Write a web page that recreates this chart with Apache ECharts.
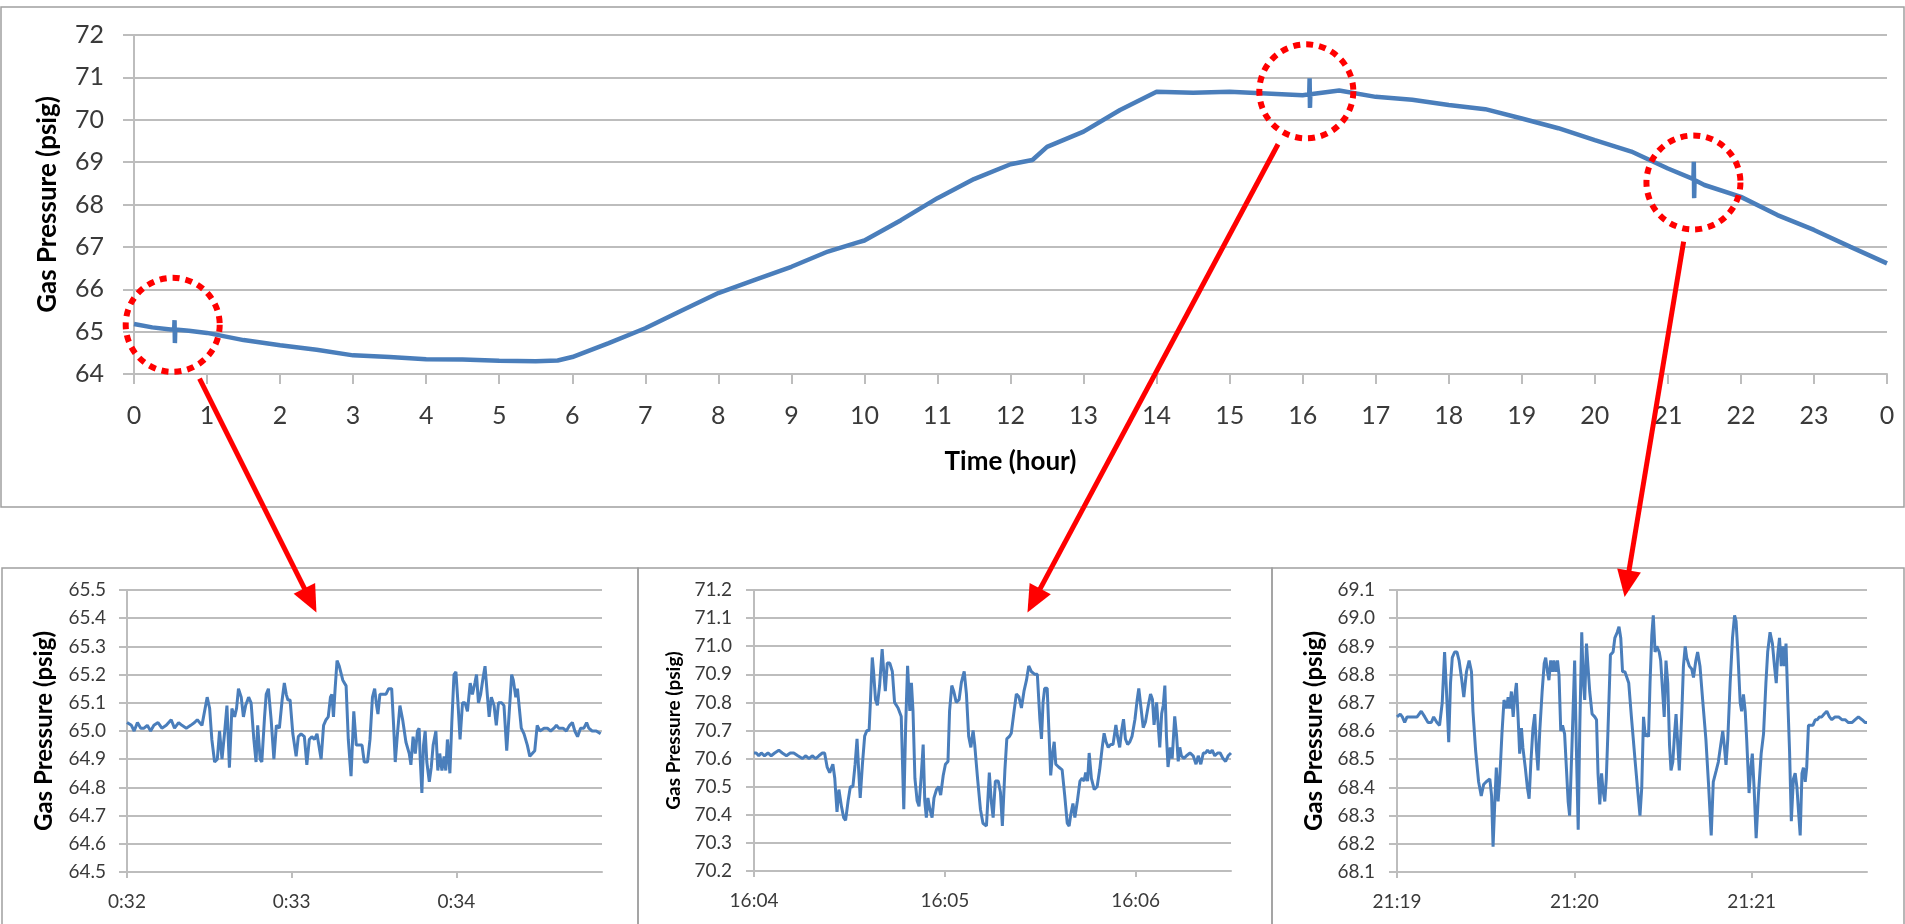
<!DOCTYPE html>
<html>
<head>
<meta charset="utf-8">
<script src="https://cdn.jsdelivr.net/npm/echarts@6/dist/echarts.min.js"></script>
<style>
html,body{margin:0;padding:0;background:#ffffff;}
#c{width:1905px;height:924px;}
</style>
</head>
<body>
<div id="c"></div>
<script>
// ---------- DATA ----------
// Main chart: 24-hour gas pressure (hour, psig)
const mainHours = [0,0.25,0.5,0.55,0.555,0.56,0.565,0.75,1.0,1.5,2.0,2.5,3.0,3.5,4.0,4.5,5.0,5.5,5.8,6.0,6.5,7.0,7.5,8.0,8.5,9.0,9.5,9.9,10.0,10.5,11.0,11.5,12.0,12.3,12.5,13.0,13.5,14.0,14.5,15.0,15.5,16.0,16.09,16.095,16.1,16.105,16.5,17.0,17.5,18.0,18.5,19.0,19.5,20.0,20.5,21.0,21.35,21.355,21.36,21.365,21.5,22.0,22.5,23.0,23.5,24.0];
const mainPressure = [65.18,65.10,65.05,65.05,65.27,64.73,65.05,65.02,64.97,64.80,64.68,64.57,64.44,64.40,64.35,64.34,64.31,64.30,64.32,64.40,64.73,65.08,65.50,65.91,66.22,66.53,66.89,67.10,67.15,67.63,68.15,68.60,68.95,69.05,69.36,69.72,70.23,70.66,70.64,70.66,70.62,70.58,70.60,70.98,70.28,70.60,70.69,70.54,70.47,70.35,70.25,70.03,69.80,69.52,69.25,68.85,68.60,69.01,68.15,68.58,68.46,68.18,67.75,67.40,67.00,66.61];
const hourTickLabels = ['0','1','2','3','4','5','6','7','8','9','10','11','12','13','14','15','16','17','18','19','20','21','22','23','0'];

// Zoom 1: seconds after 0:32:00, psig
const zoom1Data = [[0,65.03],[1.6,65.02],[2.6,65.00],[3.8,65.03],[5.0,65.01],[6.2,65.01],[7.4,65.02],[8.6,65.00],[9.8,65.02],[11.3,65.03],[12.7,65.01],[14.3,65.02],[16.1,65.04],[17.3,65.01],[18.8,65.03],[20.0,65.02],[21.6,65.01],[23.2,65.02],[24.6,65.03],[25.6,65.04],[27.3,65.02],[29.2,65.12],[30.1,65.08],[30.9,64.97],[31.9,64.89],[32.9,64.90],[33.7,65.00],[34.6,64.90],[35.5,64.99],[36.4,65.09],[37.3,64.87],[38.2,65.08],[39.2,65.05],[39.9,65.08],[40.6,65.15],[41.6,65.12],[42.4,65.05],[43.2,65.09],[44.3,65.12],[45.2,65.10],[46.2,64.97],[47.0,64.89],[47.6,65.02],[48.5,64.90],[49.1,64.89],[50.1,65.05],[50.7,65.13],[51.5,65.15],[52.5,65.04],[53.5,64.90],[54.4,65.02],[55.5,65.01],[56.5,65.11],[57.3,65.17],[58.0,65.13],[58.6,65.11],[59.4,65.11],[60.4,64.99],[61.6,64.91],[62.4,64.98],[63.4,64.99],[64.6,64.98],[65.5,64.88],[66.4,64.97],[67.3,64.98],[68.3,64.97],[69.2,64.99],[69.7,64.96],[70.7,64.90],[71.6,65.02],[72.5,65.04],[73.3,65.05],[74.1,65.12],[74.6,65.13],[75.2,65.05],[75.8,65.15],[76.5,65.25],[77.3,65.23],[78.6,65.18],[79.8,65.16],[80.6,64.97],[81.6,64.84],[82.6,65.07],[83.5,64.95],[84.6,64.95],[85.6,64.95],[86.4,64.89],[87.6,64.89],[88.5,64.97],[89.4,65.12],[90.2,65.15],[90.9,65.09],[91.4,65.06],[92.1,65.13],[93.1,65.13],[94.3,65.13],[95.3,65.15],[96.4,65.15],[97.1,65.02],[97.7,64.89],[98.5,64.99],[99.4,65.09],[100.4,65.04],[101.6,64.96],[102.8,64.92],[103.4,64.88],[104.2,64.98],[105.0,64.92],[105.8,65.00],[106.4,65.01],[106.8,64.90],[107.4,64.78],[108.0,64.95],[108.6,65.00],[109.2,64.89],[110.1,64.82],[110.8,64.87],[111.5,64.95],[112.5,65.00],[113.2,64.86],[113.9,64.92],[114.7,64.86],[115.5,64.91],[116.1,64.86],[116.7,64.97],[117.6,64.85],[118.3,65.03],[119.1,65.20],[119.8,65.21],[120.6,65.09],[121.3,64.97],[122.2,65.10],[123.1,65.10],[124.0,65.07],[125.0,65.17],[125.8,65.13],[126.7,65.17],[127.3,65.20],[128.0,65.10],[128.8,65.13],[129.7,65.19],[130.4,65.23],[131.3,65.12],[131.9,65.05],[132.7,65.12],[133.7,65.09],[134.5,65.02],[135.3,65.10],[136.5,65.10],[137.3,65.09],[138.3,64.93],[139.1,65.05],[140.1,65.20],[140.7,65.18],[141.6,65.12],[142.2,65.15],[142.8,65.09],[143.6,65.01],[144.6,64.99],[145.8,64.95],[146.7,64.91],[147.6,64.92],[148.5,64.93],[149.4,65.02],[150.4,65.00],[151.9,65.01],[153.1,65.01],[154.3,65.00],[155.5,65.01],[156.4,65.02],[157.3,65.01],[158.8,65.01],[160.0,65.00],[161.2,65.02],[162.2,65.03],[163.1,65.00],[164.1,64.98],[165.2,65.01],[166.4,65.01],[167.4,65.03],[168.2,65.01],[169.4,65.00],[170.9,65.00],[172.5,64.99]];
const zoom1TickLabels = ['0:32','0:33','0:34'];

// Zoom 2: seconds after 16:04:00, psig
const zoom2Data = [[0,70.62],[0.7,70.62],[1.5,70.61],[2.3,70.62],[3.3,70.61],[4.4,70.62],[5.4,70.61],[6.5,70.62],[7.8,70.63],[8.9,70.62],[10.2,70.61],[11.4,70.62],[12.5,70.62],[13.8,70.61],[15.2,70.60],[16.3,70.61],[17.3,70.60],[18.3,70.61],[19.4,70.60],[20.4,70.61],[21.5,70.62],[22.2,70.62],[23.0,70.57],[23.8,70.55],[24.8,70.58],[25.4,70.53],[26.1,70.41],[26.7,70.49],[27.5,70.43],[28.2,70.39],[28.8,70.38],[29.6,70.45],[30.3,70.50],[31.1,70.50],[31.8,70.58],[32.4,70.67],[33.0,70.54],[33.4,70.46],[34.1,70.58],[34.8,70.68],[35.5,70.70],[36.2,70.70],[36.6,70.80],[37.2,70.96],[37.6,70.91],[38.2,70.81],[38.8,70.79],[39.5,70.86],[40.3,70.99],[40.8,70.91],[41.3,70.84],[41.9,70.94],[42.7,70.94],[43.5,70.91],[44.2,70.80],[45.3,70.78],[46.3,70.75],[47.1,70.42],[47.7,70.72],[48.3,70.93],[49.0,70.77],[49.5,70.87],[50.0,70.77],[50.6,70.53],[51.3,70.45],[51.9,70.43],[52.6,70.54],[53.2,70.65],[53.7,70.45],[54.2,70.39],[54.7,70.46],[55.3,70.42],[56.0,70.39],[56.6,70.46],[57.4,70.49],[58.1,70.50],[58.7,70.47],[59.5,70.54],[60.2,70.58],[61.0,70.59],[61.5,70.77],[62.2,70.86],[62.8,70.84],[63.6,70.80],[64.5,70.81],[65.2,70.87],[66.1,70.91],[66.8,70.83],[67.5,70.68],[68.2,70.64],[68.9,70.70],[69.4,70.65],[70.3,70.53],[71.2,70.42],[72.0,70.37],[73.1,70.36],[74.0,70.55],[74.6,70.45],[75.2,70.39],[75.9,70.52],[76.8,70.52],[77.5,70.48],[78.1,70.36],[78.9,70.56],[79.5,70.67],[80.4,70.68],[80.9,70.69],[81.8,70.77],[82.5,70.83],[83.3,70.82],[84.1,70.78],[84.9,70.84],[85.7,70.88],[86.4,70.93],[87.2,70.91],[88.3,70.90],[89.1,70.90],[89.9,70.74],[90.4,70.67],[90.9,70.80],[91.4,70.85],[92.2,70.85],[92.7,70.71],[93.3,70.54],[93.9,70.62],[94.4,70.66],[94.9,70.58],[95.8,70.57],[96.9,70.56],[97.7,70.47],[98.5,70.37],[99.1,70.36],[99.6,70.40],[100.3,70.44],[100.9,70.39],[101.7,70.45],[102.5,70.52],[103.2,70.53],[103.8,70.52],[104.3,70.55],[104.9,70.52],[105.4,70.62],[106.1,70.53],[107.0,70.49],[107.9,70.50],[108.7,70.56],[109.5,70.64],[110.1,70.69],[110.7,70.66],[111.4,70.64],[112.2,70.65],[112.9,70.65],[113.8,70.72],[114.3,70.68],[115.0,70.64],[115.6,70.70],[116.2,70.74],[116.8,70.67],[117.5,70.65],[118.2,70.66],[118.9,70.68],[119.8,70.74],[120.5,70.81],[121.0,70.85],[121.7,70.78],[122.4,70.71],[123.1,70.73],[124.0,70.79],[124.7,70.83],[125.3,70.81],[125.8,70.72],[126.6,70.80],[127.1,70.72],[127.6,70.64],[128.2,70.76],[128.7,70.79],[129.2,70.86],[129.7,70.68],[130.2,70.57],[130.9,70.64],[131.5,70.60],[132.3,70.75],[132.9,70.68],[133.4,70.59],[133.9,70.64],[134.4,70.61],[135.2,70.60],[136.0,70.61],[137.1,70.62],[138.1,70.61],[139.0,70.58],[139.7,70.61],[140.5,70.58],[141.3,70.62],[142.0,70.62],[142.6,70.63],[143.4,70.62],[144.1,70.63],[144.9,70.61],[145.8,70.62],[146.6,70.62],[147.5,70.60],[148.3,70.59],[149.1,70.61],[150.0,70.62]];
const zoom2TickLabels = ['16:04','16:05','16:06'];

// Zoom 3: seconds after 21:19:00, psig
const zoom3Data = [[0,68.65],[1.1,68.66],[1.8,68.65],[2.6,68.63],[3.4,68.65],[4.3,68.65],[5.4,68.65],[6.8,68.65],[8.2,68.67],[9.4,68.65],[10.5,68.63],[11.6,68.63],[12.4,68.65],[13.5,68.63],[14.4,68.62],[15.3,68.70],[16.1,68.88],[16.7,68.75],[17.5,68.56],[18.1,68.77],[18.7,68.86],[19.5,68.88],[20.3,68.88],[21.0,68.85],[21.8,68.79],[22.6,68.72],[23.5,68.81],[24.4,68.85],[25.2,68.81],[25.7,68.67],[26.6,68.53],[27.6,68.42],[28.5,68.37],[29.3,68.41],[30.2,68.42],[31.4,68.43],[32.0,68.37],[32.5,68.19],[33.1,68.35],[33.6,68.47],[34.2,68.35],[34.7,68.42],[35.5,68.59],[36.2,68.71],[37.0,68.68],[37.6,68.72],[38.1,68.68],[38.7,68.74],[39.3,68.65],[39.8,68.72],[40.4,68.77],[41.0,68.64],[41.5,68.52],[42.1,68.61],[42.6,68.54],[43.4,68.47],[44.1,68.40],[44.7,68.36],[45.3,68.49],[46.0,68.61],[46.6,68.66],[47.2,68.53],[47.7,68.46],[48.3,68.60],[49.1,68.74],[49.8,68.84],[50.3,68.86],[50.9,68.81],[51.4,68.78],[52.0,68.85],[52.6,68.81],[53.1,68.85],[53.7,68.81],[54.3,68.85],[54.8,68.80],[55.4,68.60],[56.0,68.62],[56.7,68.59],[57.3,68.47],[57.9,68.35],[58.4,68.30],[59.2,68.55],[60.1,68.85],[60.7,68.53],[61.3,68.25],[61.8,68.59],[62.5,68.95],[63.0,68.78],[63.5,68.71],[64.1,68.91],[64.6,68.83],[65.2,68.74],[66.0,68.66],[66.9,68.65],[67.5,68.64],[68.0,68.45],[68.6,68.34],[69.2,68.45],[69.7,68.39],[70.3,68.35],[70.8,68.43],[71.4,68.61],[72.2,68.87],[73.1,68.88],[73.7,68.93],[74.5,68.95],[75.1,68.97],[75.7,68.93],[76.3,68.81],[77.1,68.81],[77.6,68.81],[78.4,68.77],[79.3,68.65],[80.5,68.50],[81.5,68.38],[82.2,68.30],[82.8,68.40],[83.4,68.65],[84.0,68.58],[84.5,68.59],[85.1,68.58],[85.6,68.77],[86.2,68.94],[86.7,69.01],[87.3,68.88],[87.9,68.90],[88.7,68.88],[89.2,68.85],[89.8,68.75],[90.4,68.65],[91.0,68.85],[91.6,68.77],[92.2,68.55],[92.7,68.46],[93.3,68.49],[93.9,68.59],[94.4,68.66],[95.0,68.55],[95.5,68.46],[96.3,68.65],[96.9,68.83],[97.5,68.90],[98.0,68.86],[98.9,68.83],[99.7,68.82],[100.3,68.79],[101.1,68.85],[101.7,68.88],[102.5,68.83],[103.4,68.71],[104.5,68.57],[105.4,68.41],[106.3,68.23],[107.0,68.42],[108.0,68.46],[108.7,68.49],[109.5,68.55],[110.2,68.60],[110.8,68.54],[111.3,68.48],[111.9,68.57],[112.7,68.77],[113.5,68.93],[114.2,69.01],[114.7,68.99],[115.3,68.88],[116.1,68.70],[116.6,68.67],[117.2,68.73],[117.8,68.67],[118.3,68.57],[119.1,68.38],[119.7,68.47],[120.2,68.52],[120.8,68.40],[121.5,68.22],[122.3,68.38],[123.2,68.52],[124.0,68.59],[124.8,68.77],[125.4,68.88],[126.2,68.95],[127.0,68.91],[127.7,68.83],[128.3,68.77],[128.8,68.87],[129.4,68.93],[130.0,68.83],[130.5,68.90],[131.1,68.83],[131.6,68.91],[132.2,68.71],[132.8,68.53],[133.4,68.28],[134.1,68.43],[134.7,68.45],[135.3,68.40],[135.8,68.32],[136.4,68.23],[137.0,68.45],[137.5,68.47],[138.1,68.42],[138.6,68.47],[139.2,68.62],[139.8,68.62],[140.7,68.62],[141.5,68.64],[142.2,68.64],[142.9,68.65],[143.7,68.65],[144.5,68.66],[145.4,68.67],[146.3,68.65],[147.1,68.64],[148.2,68.65],[149.4,68.65],[150.5,68.64],[151.6,68.64],[152.7,68.63],[153.9,68.63],[155.0,68.64],[156.1,68.65],[157.3,68.64],[158.4,68.63],[159.0,68.63]];
const zoom3TickLabels = ['21:19','21:20','21:21'];

// Callouts: circled spots on the main chart (hour, psig) and arrow tips in each zoom panel (seconds, psig)
const calloutHours = [0.53, 16.05, 21.35];
const calloutPressure = [65.16, 70.67, 68.52];
const arrowTipSeconds = [69, 86, 77];
const arrowTipPressure = [65.42, 71.12, 69.075];

// ---------- CHART ----------
const FONT = 'Lato, "Liberation Sans", sans-serif';
const LABEL = '#3a3a3a';
const GRID = '#bdbdbd';
const LINE = '#4a7ebb';
const RED = '#ff0000';

const chart = echarts.init(document.getElementById('c'), null, {renderer: 'canvas'});

function yAxis(gi, min, max, step, o) {
  return {
    type: 'value', gridIndex: gi, min: min, max: max, interval: step,
    name: 'Gas Pressure (psig)', nameLocation: 'middle', nameRotate: 90, nameGap: o.nameGap,
    nameTextStyle: {fontFamily: FONT, fontWeight: 'bold', fontSize: o.nameSize, color: '#000'},
    axisLine: {show: true, lineStyle: {color: GRID, width: 2}},
    axisTick: {show: true, length: o.tick, lineStyle: {color: GRID, width: 2}},
    splitLine: {show: true, lineStyle: {color: GRID, width: 2}},
    axisLabel: {fontFamily: FONT, fontSize: o.labelSize, color: LABEL, margin: o.margin,
      formatter: v => (step < 1 ? v.toFixed(1) : String(Math.round(v)))}
  };
}
function zoomXAxis(gi, max, labels) {
  const vals = labels.map((_, i) => i * 60);
  return {
    type: 'value', gridIndex: gi, min: 0, max: max, interval: 60,
    axisLine: {show: true, lineStyle: {color: GRID, width: 2}},
    axisTick: {show: true, length: 6, customValues: vals, lineStyle: {color: GRID, width: 2}},
    splitLine: {show: false},
    axisLabel: {fontFamily: FONT, fontSize: 19, color: LABEL, margin: 20, customValues: vals,
      formatter: v => labels[Math.round(v / 60)] || ''}
  };
}

const option = {
  animation: false,
  backgroundColor: '#ffffff',
  grid: [
    {left: 134, top: 35, width: 1753, height: 339},
    {left: 127, top: 590, width: 475, height: 282},
    {left: 754, top: 590, width: 477, height: 281},
    {left: 1397, top: 590, width: 470, height: 282}
  ],
  xAxis: [
    {
      type: 'value', gridIndex: 0, min: 0, max: 24, interval: 1,
      name: 'Time (hour)', nameLocation: 'middle', nameGap: 75,
      nameTextStyle: {fontFamily: FONT, fontWeight: 'bold', fontSize: 26, color: '#000'},
      axisLine: {show: true, lineStyle: {color: GRID, width: 2}},
      axisTick: {show: true, length: 10, lineStyle: {color: GRID, width: 2}},
      splitLine: {show: false},
      axisLabel: {fontFamily: FONT, fontSize: 25, color: LABEL, margin: 29,
        formatter: v => hourTickLabels[Math.round(v)]}
    },
    zoomXAxis(1, 173, zoom1TickLabels),
    zoomXAxis(2, 150, zoom2TickLabels),
    zoomXAxis(3, 159, zoom3TickLabels)
  ],
  yAxis: [
    yAxis(0, 64, 72, 1, {nameGap: 73, nameSize: 26, labelSize: 25, margin: 30, tick: 11}),
    yAxis(1, 64.5, 65.5, 0.1, {nameGap: 71, nameSize: 24, labelSize: 19, margin: 21, tick: 8}),
    yAxis(2, 70.2, 71.2, 0.1, {nameGap: 71, nameSize: 19, labelSize: 19, margin: 22, tick: 8}),
    yAxis(3, 68.1, 69.1, 0.1, {nameGap: 71, nameSize: 24, labelSize: 19, margin: 22, tick: 8})
  ],
  series: [
    {type: 'line', xAxisIndex: 0, yAxisIndex: 0, showSymbol: false, symbol: 'none',
      data: mainHours.map((h, i) => [h, mainPressure[i]]),
      lineStyle: {color: LINE, width: 4.5}, itemStyle: {color: LINE}},
    {type: 'line', xAxisIndex: 1, yAxisIndex: 1, showSymbol: false, symbol: 'none',
      data: zoom1Data, lineStyle: {color: LINE, width: 3}, itemStyle: {color: LINE}},
    {type: 'line', xAxisIndex: 2, yAxisIndex: 2, showSymbol: false, symbol: 'none',
      data: zoom2Data, lineStyle: {color: LINE, width: 3}, itemStyle: {color: LINE}},
    {type: 'line', xAxisIndex: 3, yAxisIndex: 3, showSymbol: false, symbol: 'none',
      data: zoom3Data, lineStyle: {color: LINE, width: 3}, itemStyle: {color: LINE}}
  ]
};
chart.setOption(option);

// Frames around the four panels
const frameStyle = {fill: 'none', stroke: '#a0a0a0', lineWidth: 1.5};
const graphics = [
  {type: 'rect', shape: {x: 1, y: 7, width: 1903, height: 500}, style: frameStyle, silent: true, z: 1},
  {type: 'rect', shape: {x: 2, y: 568, width: 636, height: 400}, style: frameStyle, silent: true, z: 1},
  {type: 'rect', shape: {x: 638, y: 568, width: 634, height: 400}, style: frameStyle, silent: true, z: 1},
  {type: 'rect', shape: {x: 1272, y: 568, width: 632, height: 400}, style: frameStyle, silent: true, z: 1}
];

// Red dotted circles and arrows, positioned through the chart's own axes
const R = 47;
for (let i = 0; i < 3; i++) {
  const c = chart.convertToPixel({xAxisIndex: 0, yAxisIndex: 0}, [calloutHours[i], calloutPressure[i]]);
  const t = chart.convertToPixel({xAxisIndex: i + 1, yAxisIndex: i + 1}, [arrowTipSeconds[i], arrowTipPressure[i]]);
  graphics.push({type: 'circle', shape: {cx: c[0], cy: c[1], r: R},
    style: {fill: 'none', stroke: RED, lineWidth: 6, lineDash: [7, 6]}, silent: true, z: 100});
  const dx = t[0] - c[0], dy = t[1] - c[1];
  const len = Math.sqrt(dx * dx + dy * dy);
  const ux = dx / len, uy = dy / len;
  const sx = c[0] + ux * 60, sy = c[1] + uy * 60;
  const headLen = 27, headHalf = 12;
  const bx = t[0] - ux * headLen, by = t[1] - uy * headLen;
  graphics.push({type: 'line', shape: {x1: sx, y1: sy, x2: bx + ux * 2, y2: by + uy * 2},
    style: {stroke: RED, lineWidth: 5}, silent: true, z: 100});
  graphics.push({type: 'polygon', shape: {points: [
      [t[0], t[1]],
      [bx - uy * headHalf, by + ux * headHalf],
      [bx + uy * headHalf, by - ux * headHalf]
    ]}, style: {fill: RED}, silent: true, z: 100});
}
chart.setOption({graphic: graphics});
</script>
</body>
</html>
